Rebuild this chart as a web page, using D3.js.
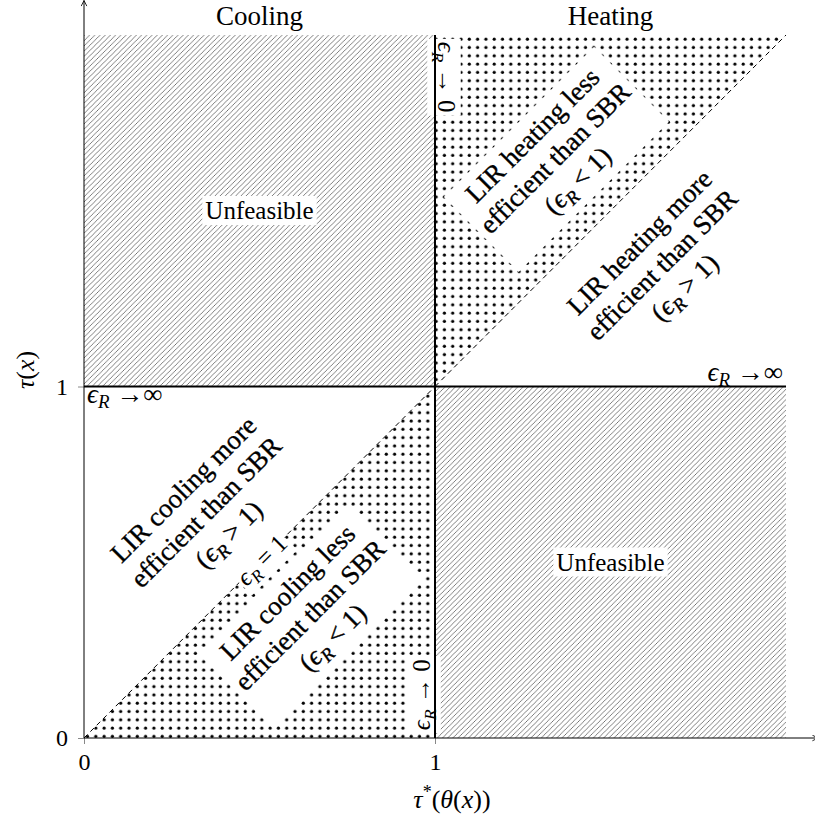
<!DOCTYPE html>
<html>
<head>
<meta charset="utf-8">
<script src="https://cdn.jsdelivr.net/npm/d3@7"></script>
<style>
  html, body { margin: 0; padding: 0; background: #fff; }
  svg { display: block; }
  text { font-family: "Liberation Serif", "DejaVu Serif", serif; fill: #000; }
</style>
</head>
<body>
<svg id="chart" width="815" height="826"></svg>
<script>
// ---------------- data ----------------
const xDomain = [0, 2];
const yDomain = [0, 2];
const xTickValues = [0, 1];
const yTickValues = [0, 1];
const tickLabels = ["0", "1"];
const xAxisTitle = "τ*(θ(x))";
const yAxisTitle = "τ(x)";

const columnTitles = ["Cooling", "Heating"];
const columnCenters = [0.5, 1.5];

// unfeasible (hatched) rectangles: [x0, x1, y0, y1]
const unfeasibleRegions = [[0, 1, 1, 2], [1, 2, 0, 1]];
const unfeasibleLabelPos = [[0.5, 1.5], [1.5, 0.5]];
const unfeasibleText = "Unfeasible";

// dotted (epsilon_R < 1) triangles
const dottedRegions = [
  [[0, 0], [1, 0], [1, 1]],
  [[1, 1], [1, 2], [2, 2]]
];
// epsilon_R = 1 diagonals (dashed)
const equalityLines = [[[0, 0], [1, 1]], [[1, 1], [2, 2]]];
// limit lines (thick)
const limitLines = [[[0, 1], [2, 1]], [[1, 0], [1, 2]]];

// rotated multi-line region labels
const blockLabels = [
  { lines: ["LIR heating less", "efficient than SBR", "(ϵ_R < 1)"], pos: [1.342, 1.650] },
  { lines: ["LIR heating more", "efficient than SBR", "(ϵ_R > 1)"], pos: [1.647, 1.346] },
  { lines: ["LIR cooling more", "efficient than SBR", "(ϵ_R > 1)"], pos: [0.348, 0.643] },
  { lines: ["LIR cooling less", "efficient than SBR", "(ϵ_R < 1)"], pos: [0.644, 0.350] }
];
const equalityLabel = { text: "ϵ_R = 1", pos: [0.507, 0.506] };

// limit labels
const infinityLabels = [
  { text: "ϵ_R →∞", pos: [0, 1], anchor: "start" },
  { text: "ϵ_R →∞", pos: [2, 1], anchor: "end" }
];
const zeroLabels = [
  { text: "ϵ_R → 0", pos: [1, 1.88], rot: 90 },
  { text: "ϵ_R → 0", pos: [1, 0.123], rot: -90 }
];

// ---------------- drawing ----------------
const svg = d3.select("#chart");
const x = d3.scaleLinear().domain(xDomain).range([84, 786]);
const y = d3.scaleLinear().domain(yDomain).range([738, 35]);

const defs = svg.append("defs");
const hatch = defs.append("pattern")
  .attr("id", "hatch").attr("patternUnits", "userSpaceOnUse")
  .attr("width", 5.2).attr("height", 5.2);
hatch.append("path")
  .attr("d", "M-1,6.2 L6.2,-1 M-1,1 L1,-1 M4.2,6.2 L6.2,4.2")
  .attr("stroke", "#555").attr("stroke-width", 0.75).attr("fill", "none");

const dots = defs.append("pattern")
  .attr("id", "dots").attr("patternUnits", "userSpaceOnUse")
  .attr("x", x(0) + 3.5 - 4).attr("y", y(0) - 1.5 - 4)
  .attr("width", 8.3).attr("height", 8.3);
dots.append("circle").attr("cx", 4).attr("cy", 4).attr("r", 1.6).attr("fill", "#000");

defs.append("marker")
  .attr("id", "arrow").attr("viewBox", "0 0 10 10")
  .attr("refX", 9).attr("refY", 5)
  .attr("markerWidth", 7).attr("markerHeight", 7)
  .attr("markerUnits", "userSpaceOnUse")
  .attr("orient", "auto")
  .append("path").attr("d", "M1,1 L9,5 L1,9").attr("fill", "none")
  .attr("stroke", "#000").attr("stroke-width", 1.2);

// hatched regions
svg.append("g").selectAll("rect").data(unfeasibleRegions).join("rect")
  .attr("x", d => x(d[0])).attr("y", d => y(d[3]))
  .attr("width", d => x(d[1]) - x(d[0])).attr("height", d => y(d[2]) - y(d[3]))
  .attr("fill", "url(#hatch)");

// dotted triangles
const line = d3.line().x(d => x(d[0])).y(d => y(d[1]));
svg.append("g").selectAll("path").data(dottedRegions).join("path")
  .attr("d", d => line(d) + "Z")
  .attr("fill", "url(#dots)");

// dashed diagonals
svg.append("g").selectAll("path").data(equalityLines).join("path")
  .attr("d", line).attr("fill", "none")
  .attr("stroke", "#000").attr("stroke-width", 1).attr("stroke-dasharray", "5,4");

// rich text helper: "ϵ" italic, "_X" subscript italic X
function richText(textSel, str, size) {
  const tokens = [];
  let i = 0;
  while (i < str.length) {
    const c = str[i];
    if (c === "_") { tokens.push({ t: str[i + 1], sub: true }); i += 2; }
    else if (c === "ϵ" || c === "τ" || c === "θ" || c === "x") { tokens.push({ t: c, it: true }); i++; }
    else {
      let j = i;
      while (j < str.length && !["_", "ϵ", "τ", "θ", "x"].includes(str[j])) j++;
      tokens.push({ t: str.slice(i, j) }); i = j;
    }
  }
  let shifted = false;
  tokens.forEach(tok => {
    const ts = textSel.append("tspan").text(tok.t);
    if (tok.sub) {
      ts.attr("font-style", "italic").attr("font-size", size * 0.7).attr("dy", size * 0.22);
      shifted = true;
    } else {
      if (shifted) { ts.attr("dy", -size * 0.22); shifted = false; }
      if (tok.it) ts.attr("font-style", "italic");
    }
  });
}

function whiteBox(outer, inner, pad) {
  const b = inner.node().getBBox();
  outer.insert("rect", ":first-child")
    .attr("x", b.x - pad[0]).attr("y", b.y - pad[1])
    .attr("width", b.width + 2 * pad[0]).attr("height", b.height + 2 * pad[1])
    .attr("fill", "#fff");
}

// unfeasible labels
unfeasibleLabelPos.forEach(p => {
  const g = svg.append("g").attr("transform", `translate(${x(p[0])},${y(p[1])})`);
  const inner = g.append("g");
  inner.append("text").attr("text-anchor", "middle").attr("dy", "0.33em")
    .attr("font-size", 25).text(unfeasibleText);
  whiteBox(g, inner, [3, 1]);
});

// block labels
const blockSize = 27, lineGap = 32;
blockLabels.forEach(b => {
  const g = svg.append("g").attr("transform", `translate(${x(b.pos[0])},${y(b.pos[1])}) rotate(-45)`);
  const inner = g.append("g");
  b.lines.forEach((ln, k) => {
    const t = inner.append("text").attr("text-anchor", "middle")
      .attr("y", (k - 1) * lineGap).attr("dy", "0.33em").attr("font-size", blockSize)
      .attr("stroke", "#000").attr("stroke-width", 0.35);
    richText(t, ln, blockSize);
  });
  whiteBox(g, inner, [6, 4]);
});

// equality label
{
  const g = svg.append("g").attr("transform", `translate(${x(equalityLabel.pos[0])},${y(equalityLabel.pos[1])}) rotate(-45)`);
  const inner = g.append("g");
  const t = inner.append("text").attr("text-anchor", "middle").attr("dy", "0.33em").attr("font-size", 25);
  richText(t, equalityLabel.text, 25);
  whiteBox(g, inner, [2, 0]);
}

// zero labels
zeroLabels.forEach(z => {
  const cx = x(z.pos[0]) + (z.rot > 0 ? 11 : -13);
  const g = svg.append("g").attr("transform", `translate(${cx},${y(z.pos[1])}) rotate(${z.rot})`);
  const inner = g.append("g");
  const t = inner.append("text").attr("text-anchor", "middle").attr("dy", "0.33em").attr("font-size", 25);
  richText(t, z.text, 25);
  whiteBox(g, inner, [3, 1]);
});

// thick limit lines
svg.append("g").selectAll("path").data(limitLines).join("path")
  .attr("d", line).attr("fill", "none")
  .attr("stroke", "#000").attr("stroke-width", 2);

// infinity labels
infinityLabels.forEach(l => {
  const t = svg.append("text").attr("text-anchor", l.anchor)
    .attr("x", x(l.pos[0]) + (l.anchor === "start" ? 3 : -3))
    .attr("y", y(l.pos[1]) + (l.anchor === "start" ? 16 : -6))
    .attr("font-size", 27);
  richText(t, l.text, 27);
});

// axes
const xAxis = d3.axisBottom(x).tickValues(xTickValues).tickSize(6).tickPadding(9)
  .tickFormat((d, i) => tickLabels[i]);
const yAxis = d3.axisLeft(y).tickValues(yTickValues).tickSize(6).tickPadding(10)
  .tickFormat((d, i) => tickLabels[i]);
const gx = svg.append("g").attr("transform", `translate(0,${y(0)})`).call(xAxis);
const gy = svg.append("g").attr("transform", `translate(${x(0)},0)`).call(yAxis);
[gx, gy].forEach(g => {
  g.select(".domain").remove();
  g.selectAll(".tick line").attr("stroke", "#888");
  g.selectAll(".tick text").attr("font-family", "Liberation Serif, serif").attr("font-size", 24).attr("fill", "#000");
});

svg.append("line").attr("x1", x(0)).attr("y1", y(0)).attr("x2", 818).attr("y2", y(0))
  .attr("stroke", "#000").attr("stroke-width", 1).attr("marker-end", "url(#arrow)");
svg.append("line").attr("x1", x(0)).attr("y1", y(0)).attr("x2", x(0)).attr("y2", 0.5)
  .attr("stroke", "#000").attr("stroke-width", 1).attr("marker-end", "url(#arrow)");

// column titles
svg.append("g").selectAll("text").data(columnTitles).join("text")
  .attr("x", (d, i) => x(columnCenters[i])).attr("y", 25)
  .attr("text-anchor", "middle").attr("font-size", 27).text(d => d);

// axis titles
{
  const t = svg.append("text").attr("x", 452).attr("y", 808).attr("text-anchor", "middle").attr("font-size", 26);
  t.append("tspan").attr("font-style", "italic").text("τ");
  t.append("tspan").attr("font-size", 18).attr("dy", -10).text("*");
  t.append("tspan").attr("dy", 10).text("(");
  t.append("tspan").attr("font-style", "italic").text("θ");
  t.append("tspan").text("(");
  t.append("tspan").attr("font-style", "italic").text("x");
  t.append("tspan").text("))");
}
{
  const t = svg.append("text").attr("transform", "translate(34,370) rotate(-90)")
    .attr("text-anchor", "middle").attr("font-size", 26);
  t.append("tspan").attr("font-style", "italic").text("τ");
  t.append("tspan").text("(");
  t.append("tspan").attr("font-style", "italic").text("x");
  t.append("tspan").text(")");
}
</script>
</body>
</html>
